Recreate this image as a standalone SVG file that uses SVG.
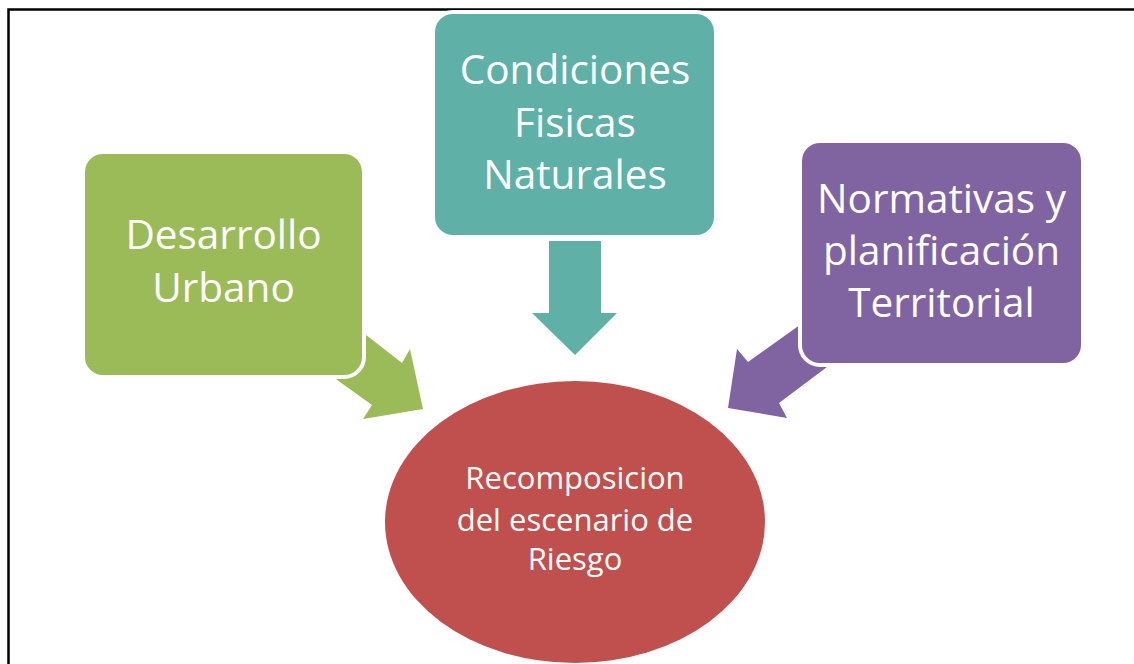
<svg xmlns="http://www.w3.org/2000/svg" width="1134" height="664" viewBox="0 0 1134 664">
<style>
.lbl{font-family:"Open Sans","Liberation Sans",sans-serif;fill:#fff;text-anchor:middle}
.big{font-size:40.5px}
.small{font-size:31px}
.box{stroke:#fff;stroke-width:4}
</style>
<rect x="0" y="0" width="1134" height="664" fill="#fff"/>
<path d="M8.5 664 V9.5 H1134" fill="none" stroke="#000" stroke-width="2.5"/>
<g id="connectors">
<polygon points="549,241 601,241 601,313 617,313 575,355 532,313 549,313" fill="#5FB0A7"/>
<polygon points="338,314 370,338 402,363 410,349 423,409 363,419 372,405 340,382 308,358" fill="#9BBB59"/>
<polygon points="829,304 797,327 748,362 737,349 728,408 787,418 779,403 823,370 852,348" fill="#8064A2"/>
</g>
<g id="node-desarrollo">
<rect class="box" x="83" y="152" width="281" height="225" rx="20" fill="#9BBB59"/>
<text class="lbl big" x="223.5" y="249">Desarrollo</text>
<text class="lbl big" x="223.5" y="302">Urbano</text>
</g>
<g id="node-condiciones">
<rect class="box" x="433" y="12" width="283" height="225" rx="20" fill="#5FB0A7"/>
<text class="lbl big" x="575" y="84">Condiciones</text>
<text class="lbl big" x="575" y="137">Fisicas</text>
<text class="lbl big" x="575" y="189">Naturales</text>
</g>
<g id="node-normativas">
<rect class="box" x="800" y="141" width="283" height="224" rx="20" fill="#8064A2"/>
<text class="lbl big" x="941.5" y="213">Normativas y</text>
<text class="lbl big" x="941.5" y="265">planificación</text>
<text class="lbl big" x="941.5" y="317">Territorial</text>
</g>
<g id="node-recomposicion">
<ellipse cx="575" cy="522" rx="190" ry="141" fill="#C0504D"/>
<text class="lbl small" x="575" y="489">Recomposicion</text>
<text class="lbl small" x="575" y="531">del escenario de</text>
<text class="lbl small" x="575" y="570">Riesgo</text>
</g>
</svg>
